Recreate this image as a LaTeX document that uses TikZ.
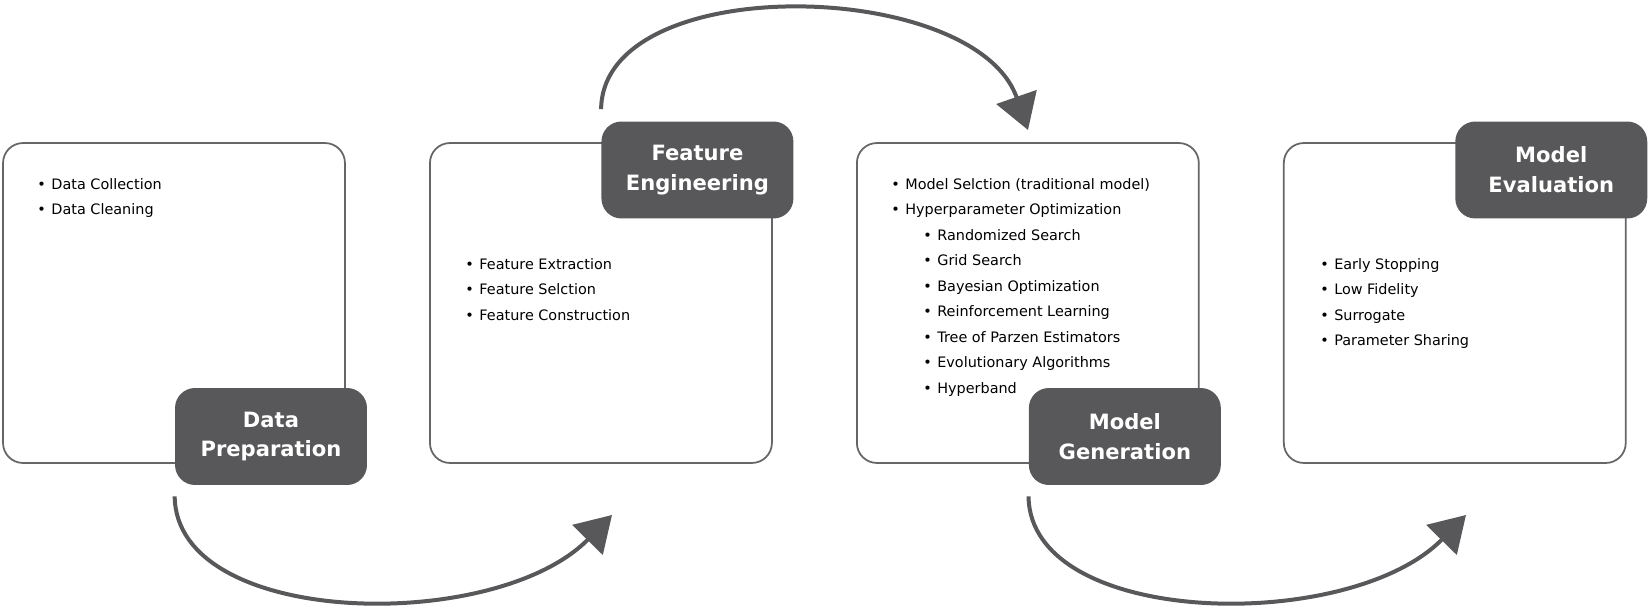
\documentclass[tikz,border=0pt]{standalone}
\usepackage{fontspec}
\setmainfont{DejaVu Sans}
\usetikzlibrary{arrows.meta,positioning}
\definecolor{tagfill}{HTML}{58585A}
\definecolor{rim}{HTML}{666668}
\newcommand{\itm}[1]{\makebox[0.28cm][l]{\textbullet}#1}
\newcommand{\subitm}[1]{\hspace*{0.64cm}\itm{#1}}

\begin{document}
\begin{tikzpicture}[x=0.02cm,y=-0.02cm,
		panel/.style={draw=rim,line width=1pt,rounded corners=0.4cm,minimum width=6.84cm,minimum height=6.4cm},
		tag/.style={fill=tagfill,text=white,rounded corners=0.4cm,minimum width=3.84cm,minimum height=1.94cm,align=center,font=\fontsize{12}{17}\selectfont\bfseries},
		list/.style={anchor=north west,inner sep=0pt,align=left,font=\fontsize{8.2}{14.5}\selectfont},
		flow/.style={draw=tagfill,line width=0.08cm,-{Triangle[length=0.7cm,width=0.84cm]}}]
			\useasboundingbox (0,0) rectangle (1650,608);
			\node[panel] (prep) at (174,303) {};
			\node[panel,right=1.665cm of prep] (feat) {};
			\node[panel,right=1.665cm of feat] (gen) {};
			\node[panel,right=1.665cm of gen] (eval) {};
			\node[list] (prepitems) at ([shift={(0.7cm,-0.72cm)}]prep.north west) {\itm{Data Collection}\\ \itm{Data Cleaning}};
			\node[list] (featitems) at ([shift={(0.72cm,-2.32cm)}]feat.north west) {\itm{Feature Extraction}\\ \itm{Feature Selction}\\ \itm{Feature Construction}};
			\node[list] (genitems) at ([shift={(0.7cm,-0.72cm)}]gen.north west) {\itm{Model Selction (traditional model)}\\ \itm{Hyperparameter Optimization}\\ \subitm{Randomized Search}\\ \subitm{Grid Search}\\ \subitm{Bayesian Optimization}\\ \subitm{Reinforcement Learning}\\ \subitm{Tree of Parzen Estimators}\\ \subitm{Evolutionary Algorithms}\\ \subitm{Hyperband}};
			\node[list] (evalitems) at ([shift={(0.74cm,-2.32cm)}]eval.north west) {\itm{Early Stopping}\\ \itm{Low Fidelity}\\ \itm{Surrogate}\\ \itm{Parameter Sharing}};
			\node[tag,anchor=south east] (tagprep) at ([shift={(0.43cm,-0.43cm)}]prep.south east) {Data\\Preparation};
			\node[tag,anchor=north east] (tagfeat) at ([shift={(0.42cm,0.42cm)}]feat.north east) {Feature\\Engineering};
			\node[tag,anchor=south east] (taggen) at ([shift={(0.43cm,-0.43cm)}]gen.south east) {Model\\Generation};
			\node[tag,anchor=north east] (tageval) at ([shift={(0.42cm,0.42cm)}]eval.north east) {Model\\Evaluation};
			\coordinate (fromprep) at ([yshift=-0.22cm]tagprep.south west);
			\coordinate (fromfeat) at ([yshift=0.24cm]tagfeat.north west);
			\coordinate (fromgen) at ([yshift=-0.22cm]taggen.south west);
			\coordinate (tofeat) at (612,515);
			\coordinate (togen) at (1028,130);
			\coordinate (toeval) at (1466,515);
			\draw[flow] (fromprep) .. controls (176,628) and (495,634) .. (tofeat);
			\draw[flow] (fromfeat) .. controls (603,-30) and (975,-22) .. (togen);
			\draw[flow] (fromgen) .. controls (1030,628) and (1349,634) .. (toeval);
		\end{tikzpicture}
\end{document}
